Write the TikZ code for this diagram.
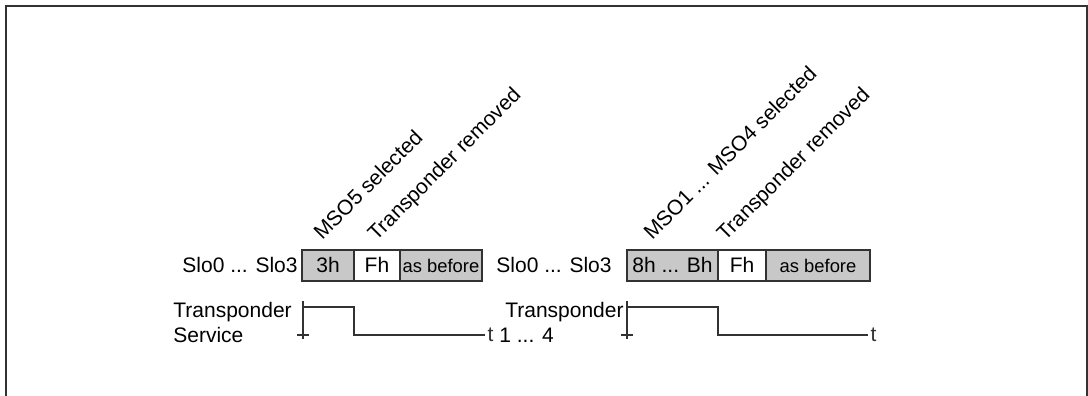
\documentclass[tikz,border=0pt]{standalone}
\usepackage{fontspec}
\setmainfont{Liberation Sans}
\usetikzlibrary{positioning}
\definecolor{cellgray}{RGB}{200,200,200}
\definecolor{framegray}{RGB}{50,50,50}

\begin{document}
\begin{tikzpicture}[x=0.5pt,y=-0.5pt,
  lbl/.style={inner sep=0pt,font=\fontsize{10.5}{12}\selectfont},
  cell/.style={draw=framegray,line width=0.7pt,minimum height=15.5pt,inner sep=0pt,outer sep=0pt,
    text height=0.72em,text depth=0pt,font=\fontsize{10.5}{12}\selectfont},
  smalltext/.style={font=\fontsize{9.2}{11}\selectfont},
  sig/.style={line width=0.6pt,framegray}]
  \useasboundingbox (0,0) rectangle (1088,396);

  % outer frame (open at the bottom)
  \draw[framegray,line width=1pt] (6,396) -- (6,6) -- (1087,6) -- (1087,396);

  % first slot register
  \node[cell,fill=cellgray,minimum width=26pt] (slotA1) at (328,265.5) {3h};
  \node[cell,fill=white,minimum width=23pt,right=0pt of slotA1] (slotA2) {Fh};
  \node[cell,fill=cellgray,minimum width=41pt,smalltext,right=0pt of slotA2] (slotA3) {as before};
  \node[lbl,anchor=base east] (regA) at (298,272) {Slo0 ... Slo3};

  % second slot register
  \node[cell,fill=cellgray,minimum width=45.5pt] (slotB1) at (672.5,265.5) {8h ... Bh};
  \node[cell,fill=white,minimum width=24pt,right=0pt of slotB1] (slotB2) {Fh};
  \node[cell,fill=cellgray,minimum width=52pt,smalltext,right=0pt of slotB2] (slotB3) {as before};
  \node[lbl,anchor=base east] (regB) at (612,272) {Slo0 ... Slo3};

  % events
  \node[lbl,rotate=45,anchor=base west] (selA) at (322,241) {MSO5 selected};
  \node[lbl,rotate=45,anchor=base west] (remA) at (376,242) {Transponder removed};
  \node[lbl,rotate=45,anchor=base west] (selB) at (652,241) {MSO1 ... MSO4 selected};
  \node[lbl,rotate=45,anchor=base west] (remB) at (725,242) {Transponder removed};

  % signals
  \foreach \ax/\fall/\tend/\n in {303/354/485/A, 627/718/868/B}{
    \draw[sig] (\ax,301) -- (\ax,339);
    \draw[sig] (\ax-6,335) -- (\ax+6,335);
    \draw[sig] (\ax,307) -- (\fall,307) -- (\fall,335) -- (\tend,335)
      node[lbl,right=1pt] (t\n) {t};
  }
  \node[lbl,anchor=base west] (trA) at (173,317) {Transponder};
  \node[lbl,anchor=base west] (svA) at (173,342) {Service};
  \node[lbl,anchor=base east] (trB) at (624,317) {Transponder};
  \node[lbl,anchor=base west] (nrB) at (499,342) {1 ... 4};
\end{tikzpicture}
\end{document}
